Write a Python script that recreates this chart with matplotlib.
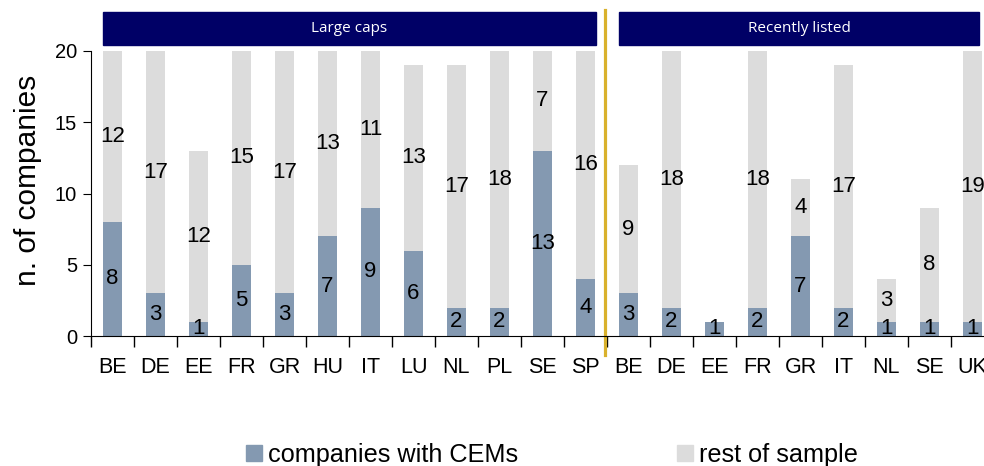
import matplotlib.pyplot as plt
from matplotlib.patches import Rectangle, Patch

plt.rcParams['font.family'] = ['Liberation Sans', 'DejaVu Sans']

# data
large_caps = ["BE", "DE", "EE", "FR", "GR", "HU", "IT", "LU", "NL", "PL", "SE", "SP"]
large_cem = [8, 3, 1, 5, 3, 7, 9, 6, 2, 2, 13, 4]
large_rest = [12, 17, 12, 15, 17, 13, 11, 13, 17, 18, 7, 16]

recent = ["BE", "DE", "EE", "FR", "GR", "IT", "NL", "SE", "UK"]
recent_cem = [3, 2, 1, 2, 7, 2, 1, 1, 1]
recent_rest = [9, 18, 0, 18, 4, 17, 3, 8, 19]

labels = large_caps + recent
cem = large_cem + recent_cem
rest = large_rest + recent_rest

blue = "#8499b1"
grey = "#dcdcdc"
navy = "#000066"
gold = "#d9b12c"

fig = plt.figure(figsize=(9.84, 4.66), dpi=100)
ax = fig.add_axes([91 / 984, 1 - 336 / 466, 903 / 984, 285 / 466])

x = [i + 0.5 for i in range(len(labels))]
w = 0.44
ax.bar(x, cem, w, color=blue)
ax.bar(x, rest, w, bottom=cem, color=grey)

for xi, c, r in zip(x, cem, rest):
    if c > 0:
        ax.text(xi, c / 2, str(c), ha="center", va="center", fontsize=16)
    if r > 0:
        ax.text(xi, c + r / 2, str(r), ha="center", va="center", fontsize=16)

ax.set_xlim(0, len(labels))
ax.set_ylim(0, 20)
ax.set_yticks([0, 5, 10, 15, 20])
ax.set_xticks(range(len(labels) + 1))
ax.set_xticklabels([])
ax.set_xticks(x, minor=True)
ax.set_xticklabels(labels, minor=True, fontsize=15.5)
ax.tick_params(axis="x", which="major", direction="out", length=8, width=1)
ax.tick_params(axis="x", which="minor", length=0, pad=15)
ax.tick_params(axis="y", direction="out", length=6, labelsize=14.5, pad=4)
ax.spines["top"].set_visible(False)
ax.spines["right"].set_visible(False)
ax.set_ylabel("n. of companies", fontsize=21.5)
ax.yaxis.set_label_coords(-0.054, 0.545)

# header boxes
ax.add_patch(Rectangle((0.28, 20.42), 11.46, 2.32, color=navy, clip_on=False))
ax.text(0.28 + 11.46 / 2, 21.58, "Large caps", color="white", ha="center", va="center",
        fontsize=11, family="Open Sans")
ax.add_patch(Rectangle((12.28, 20.42), 8.37, 2.32, color=navy, clip_on=False))
ax.text(12.28 + 8.37 / 2, 21.58, "Recently listed", color="white", ha="center", va="center",
        fontsize=11, family="Open Sans")

# separator
ax.plot([11.95, 11.95], [-1.33, 22.9], color=gold, lw=2.3, clip_on=False)

handles = [Patch(color=blue, label="companies with CEMs"),
           Patch(color=grey, label="rest of sample")]
fig.legend(handles=handles, loc="center", bbox_to_anchor=(0.561, 0.024), ncol=2,
           frameon=False, fontsize=18.2, handlelength=0.62, handleheight=0.62,
           handletextpad=0.25, columnspacing=6.3, borderpad=0)

fig.savefig("out.png", dpi=100)
